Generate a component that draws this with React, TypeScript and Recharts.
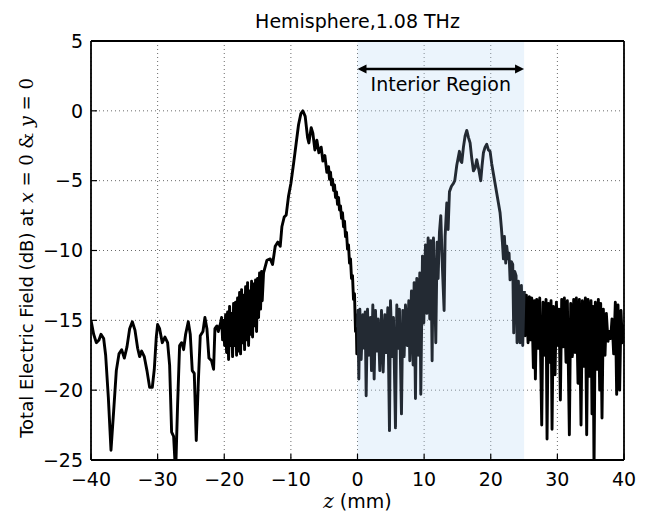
import React from 'react';
import { LineChart, Line, XAxis, YAxis, CartesianGrid, ReferenceArea, ReferenceLine } from 'recharts';

// z (mm) vs total field (dB)
const leftTail: [number, number][] = [
  [-40, -15.0], [-39.6, -16.0], [-39.2, -16.6], [-38.8, -16.4], [-38.5, -16.0], [-38.1, -16.3],
  [-37.8, -17.5], [-37.4, -20.5], [-37.0, -24.3], [-36.6, -21.5], [-36.2, -18.6], [-35.8, -17.4],
  [-35.4, -17.1], [-35.0, -17.7], [-34.6, -16.9], [-34.2, -15.6], [-33.8, -15.1], [-33.4, -15.7],
  [-33.0, -17.0], [-32.7, -17.6], [-32.4, -17.2], [-32.0, -17.6], [-31.6, -18.6], [-31.2, -19.8],
  [-30.8, -19.8], [-30.5, -18.5], [-30.2, -16.2], [-30.0, -15.3], [-29.7, -15.6], [-29.3, -16.6],
  [-28.9, -16.2], [-28.5, -16.6], [-28.2, -18.2], [-27.9, -23.0], [-27.6, -23.3], [-27.3, -26.0],
  [-27.0, -21.0], [-26.7, -16.8], [-26.4, -16.6], [-26.1, -17.1], [-25.8, -16.0], [-25.4, -15.1],
  [-25.1, -16.0], [-24.8, -18.6], [-24.5, -18.8], [-24.2, -23.6], [-23.9, -19.5], [-23.6, -16.1],
  [-23.2, -15.8], [-22.9, -14.8], [-22.6, -15.6], [-22.3, -17.7], [-21.9, -17.9], [-21.6, -18.5],
  [-21.4, -15.6], [-21.1, -15.4], [-20.9, -15.8], [-20.6, -15.3],
];

const leftNoisy: [number, number][] = [
  [-20.4, -14.8], [-20.25, -16.4], [-20.1, -15.0], [-19.95, -16.8], [-19.8, -14.6], [-19.65, -17.3],
  [-19.5, -14.4], [-19.35, -17.8], [-19.2, -14.0], [-19.05, -16.8], [-18.9, -14.5], [-18.75, -17.6],
  [-18.6, -13.8], [-18.45, -16.8], [-18.3, -13.7], [-18.15, -17.5], [-18.0, -13.4], [-17.85, -17.2],
  [-17.7, -13.0], [-17.55, -17.4], [-17.4, -12.8], [-17.25, -16.6], [-17.1, -13.2], [-16.95, -17.1],
  [-16.8, -12.6], [-16.65, -16.4], [-16.5, -12.3], [-16.35, -16.8], [-16.2, -12.9], [-16.05, -16.0],
  [-15.9, -12.2], [-15.75, -16.2], [-15.6, -12.4], [-15.45, -15.4], [-15.3, -12.1], [-15.15, -15.8],
  [-15.0, -12.0], [-14.85, -14.8], [-14.7, -11.6], [-14.55, -14.2], [-14.4, -11.5], [-14.3, -13.6],
  [-14.1, -11.6],
];

const mainLobe: [number, number][] = [
  [-13.6, -10.7], [-13.1, -10.6], [-12.75, -11.0], [-12.35, -9.7], [-11.95, -9.4], [-11.6, -9.7],
  [-11.35, -8.3], [-11.0, -7.6], [-10.7, -7.45], [-10.35, -6.1], [-10.0, -5.2], [-9.6, -3.8],
  [-9.2, -2.3], [-8.85, -1.0], [-8.5, -0.2], [-8.2, 0.0], [-7.85, -0.4], [-7.5, -1.9], [-7.3, -2.3],
  [-6.95, -1.2], [-6.7, -1.6], [-6.4, -2.8], [-6.1, -2.1], [-5.8, -3.0], [-5.45, -2.6], [-5.2, -3.6],
  [-4.9, -3.2], [-4.6, -4.4], [-4.35, -4.0], [-4.2, -4.9], [-4.05, -4.4], [-3.9, -5.3], [-3.75, -4.9],
  [-3.6, -5.7], [-3.45, -5.3], [-3.3, -6.2], [-3.15, -5.8], [-3.0, -6.7], [-2.85, -6.2], [-2.7, -7.1],
  [-2.55, -6.8], [-2.4, -7.7], [-2.25, -7.3], [-2.1, -8.3], [-1.95, -7.9], [-1.8, -9.0], [-1.65, -8.7],
  [-1.5, -9.9], [-1.35, -9.6], [-1.2, -10.9], [-1.05, -10.6], [-0.9, -12.0], [-0.75, -11.8],
  [-0.6, -13.5], [-0.45, -13.1], [-0.3, -15.8], [-0.2, -14.6], [-0.1, -17.4], [0.0, -15.5],
];

const interiorNoisy: [number, number][] = [
  [0.05, -14.3], [0.2, -19.2], [0.35, -14.2], [0.55, -17.8], [0.8, -14.6], [1.0, -17.0], [1.15, -14.4],
  [1.3, -20.4], [1.5, -14.2], [1.7, -17.5], [1.95, -14.8], [2.1, -18.6], [2.3, -13.9], [2.5, -19.2],
  [2.7, -14.3], [2.9, -17.2], [3.1, -14.9], [3.35, -18.6], [3.6, -14.3], [3.85, -18.7], [4.1, -14.6],
  [4.3, -17.3], [4.55, -14.1], [4.8, -22.9], [4.95, -13.6], [5.2, -17.6], [5.4, -14.8], [5.7, -22.7],
  [5.9, -13.9], [6.1, -17.0], [6.3, -14.2], [6.6, -21.7], [6.8, -14.3], [7.0, -17.6], [7.2, -13.9],
  [7.45, -16.8], [7.7, -13.6], [7.85, -17.9], [8.1, -12.9], [8.35, -18.2], [8.5, -12.3], [8.7, -20.6],
  [8.9, -12.0], [9.1, -17.5], [9.35, -11.6], [9.5, -20.3], [9.75, -10.4], [9.95, -15.2], [10.2, -9.6],
  [10.4, -14.5], [10.6, -9.1], [10.85, -14.9], [11.0, -9.3], [11.2, -17.9], [11.4, -9.1], [11.6, -12.8],
  [11.75, -16.6], [11.95, -9.4], [12.1, -12.0], [12.3, -8.7], [12.5, -7.5], [12.75, -11.3],
  [13.0, -14.3], [13.15, -9.0], [13.4, -6.6], [13.6, -8.5],
];

const interiorLobe: [number, number][] = [
  [13.8, -5.8], [14.1, -5.4], [14.4, -5.2], [14.6, -5.0], [14.9, -3.9], [15.1, -3.4], [15.3, -2.9],
  [15.5, -3.6], [15.65, -3.7], [15.9, -2.6], [16.15, -1.8], [16.4, -1.4], [16.65, -1.9], [16.9, -2.3],
  [17.15, -3.4], [17.4, -4.3], [17.65, -4.1], [17.9, -3.5], [18.2, -4.2], [18.5, -5.0], [18.7, -3.9],
  [18.9, -3.0], [19.15, -2.6], [19.4, -2.4], [19.65, -2.8], [19.9, -2.9], [20.15, -3.8], [20.4, -4.5],
  [20.65, -5.2], [20.9, -5.9], [21.15, -6.6], [21.4, -7.3], [21.6, -8.4], [21.75, -9.4], [21.9, -10.6],
  [22.05, -9.0], [22.25, -10.9], [22.4, -9.7], [22.6, -10.6], [22.75, -10.2], [22.9, -12.1],
  [23.1, -10.8], [23.3, -11.0], [23.45, -15.9], [23.6, -11.5], [23.8, -11.8], [23.95, -16.6],
  [24.15, -12.2], [24.4, -16.6], [24.6, -12.5], [24.8, -16.8], [25.0, -12.9],
];

const rightNoisy: [number, number][] = [
  [25.15, -16.1], [25.35, -13.2], [25.6, -16.6], [25.8, -13.3], [25.95, -16.4], [26.15, -13.4],
  [26.4, -18.4], [26.55, -13.6], [26.7, -19.2], [26.9, -13.5], [27.15, -17.0], [27.35, -13.4],
  [27.65, -22.5], [27.85, -13.7], [28.1, -17.5], [28.3, -13.5], [28.45, -23.5], [28.65, -13.8],
  [28.9, -18.0], [29.05, -13.6], [29.2, -22.8], [29.4, -14.0], [29.65, -18.9], [29.85, -13.7],
  [30.1, -16.8], [30.25, -14.2], [30.45, -20.7], [30.65, -13.5], [30.85, -16.9], [31.05, -13.4],
  [31.3, -18.0], [31.5, -13.6], [31.8, -23.2], [32.0, -13.8], [32.25, -17.6], [32.45, -13.5],
  [32.65, -17.3], [32.85, -13.4], [33.1, -19.5], [33.3, -13.5], [33.55, -22.5], [33.75, -13.6],
  [34.0, -18.3], [34.2, -13.4], [34.4, -23.2], [34.6, -13.5], [34.85, -19.0], [35.05, -13.6],
  [35.2, -21.7], [35.35, -14.0], [35.5, -25.8], [35.7, -13.7], [35.95, -18.5], [36.15, -13.5],
  [36.35, -20.0], [36.5, -13.8], [36.7, -22.0], [36.9, -14.2], [37.15, -17.5], [37.35, -14.5],
  [37.6, -16.5], [37.8, -15.8], [38.0, -16.3], [38.2, -14.9], [38.45, -17.4], [38.7, -13.7],
  [38.9, -20.3], [39.1, -13.9], [39.35, -20.0], [39.55, -14.3], [39.75, -16.6], [40.0, -15.3],
];

const xTicks = [-40, -30, -20, -10, 0, 10, 20, 30, 40];
const yTicks = [-25, -20, -15, -10, -5, 0, 5];
const interiorStart = 0;
const interiorEnd = 25;
const arrowLevel = 3;

const allPoints = [...leftTail, ...leftNoisy, ...mainLobe, ...interiorNoisy, ...interiorLobe, ...rightNoisy];
const rows = allPoints.map(([z, db]) => ({
  z,
  outer: z <= interiorStart || z >= interiorEnd ? db : null,
  inner: z >= interiorStart && z <= interiorEnd ? db : null,
}));

const FONT = 'DejaVu Sans';
const fmt = (v: number) => (v < 0 ? '\u2212' + Math.abs(v) : String(v));

const ArrowShape = (props: any) => {
  const { x1, y1, x2, y2 } = props;
  const h = 9;
  const w = 4.5;
  return (
    <g>
      <line x1={x1 + 4} y1={y1} x2={x2 - 4} y2={y2} stroke="#000" strokeWidth={2.6} />
      <polygon points={`${x1},${y1} ${x1 + h},${y1 - w} ${x1 + h},${y1 + w}`} fill="#000" />
      <polygon points={`${x2},${y2} ${x2 - h},${y2 - w} ${x2 - h},${y2 + w}`} fill="#000" />
      <text x={(x1 + x2) / 2} y={y1 + 22} textAnchor="middle" fontSize={19} fontFamily={FONT} fill="#000">
        Interior Region
      </text>
    </g>
  );
};

export default function App() {
  return (
    <div style={{ position: 'absolute', left: 0, top: 0, width: 650, height: 516, background: '#fff' }}>
      <LineChart width={650} height={516} data={rows} margin={{ top: 40, right: 25, bottom: 26, left: 31 }}>
        <ReferenceArea x1={interiorStart} x2={interiorEnd} fill="#bcd9f5" fillOpacity={0.3} stroke="none" />
        <CartesianGrid stroke="#6a6a6a" strokeDasharray="1 3" strokeWidth={1} />
        <XAxis
          type="number"
          dataKey="z"
          domain={[-40, 40]}
          ticks={xTicks}
          tickFormatter={fmt}
          height={30}
          tickSize={-6}
          tickMargin={19}
          axisLine={{ stroke: '#000', strokeWidth: 1.8 }}
          tickLine={{ stroke: '#000', strokeWidth: 1.2 }}
          tick={{ fill: '#000', fontSize: 19, fontFamily: FONT }}
          allowDataOverflow
        />
        <XAxis
          xAxisId="top"
          orientation="top"
          type="number"
          dataKey="z"
          domain={[-40, 40]}
          ticks={xTicks}
          height={1}
          tick={false}
          tickSize={-6}
          axisLine={{ stroke: '#000', strokeWidth: 1.8 }}
          tickLine={{ stroke: '#000', strokeWidth: 1.2 }}
        />
        <YAxis
          type="number"
          domain={[-25, 5]}
          ticks={yTicks}
          tickFormatter={fmt}
          width={60}
          tickSize={-6}
          tickMargin={14}
          axisLine={{ stroke: '#000', strokeWidth: 1.8 }}
          tickLine={{ stroke: '#000', strokeWidth: 1.2 }}
          tick={{ fill: '#000', fontSize: 19, fontFamily: FONT }}
          allowDataOverflow
        />
        <YAxis
          yAxisId="right"
          orientation="right"
          type="number"
          domain={[-25, 5]}
          ticks={yTicks}
          width={1}
          tick={false}
          tickSize={-6}
          axisLine={{ stroke: '#000', strokeWidth: 1.8 }}
          tickLine={{ stroke: '#000', strokeWidth: 1.2 }}
        />
        <Line
          type="linear"
          dataKey="outer"
          stroke="#000"
          strokeWidth={2.9}
          strokeLinejoin="round"
          dot={false}
          activeDot={false}
          connectNulls={false}
          isAnimationActive={false}
        />
        <Line
          type="linear"
          dataKey="inner"
          stroke="#232a33"
          strokeWidth={2.9}
          strokeLinejoin="round"
          dot={false}
          activeDot={false}
          connectNulls={false}
          isAnimationActive={false}
        />
        <ReferenceLine
          segment={[{ x: interiorStart, y: arrowLevel }, { x: interiorEnd, y: arrowLevel }]}
          shape={ArrowShape}
        />
        <text x={357.5} y={28} textAnchor="middle" fontSize={19} fontFamily={FONT} fill="#000">
          Hemisphere,1.08 THz
        </text>
        <text x={357.5} y={508} textAnchor="middle" fontSize={19} fontFamily={FONT} fill="#000">
          <tspan fontFamily="DejaVu Serif" fontStyle="italic" fontSize={20}>z</tspan> (mm)
        </text>
        <text transform="translate(33,258) rotate(-90)" textAnchor="middle" fontSize={18} fontFamily={FONT} fill="#000">
          Total Electric Field (dB) at{' '}
          <tspan fontFamily="DejaVu Serif" fontStyle="italic" fontSize={19}>x</tspan>
          <tspan fontFamily="DejaVu Serif" fontSize={18}> = 0 &amp; </tspan>
          <tspan fontFamily="DejaVu Serif" fontStyle="italic" fontSize={19}>y</tspan>
          <tspan fontFamily="DejaVu Serif" fontSize={18}> = 0</tspan>
        </text>
      </LineChart>
    </div>
  );
}
